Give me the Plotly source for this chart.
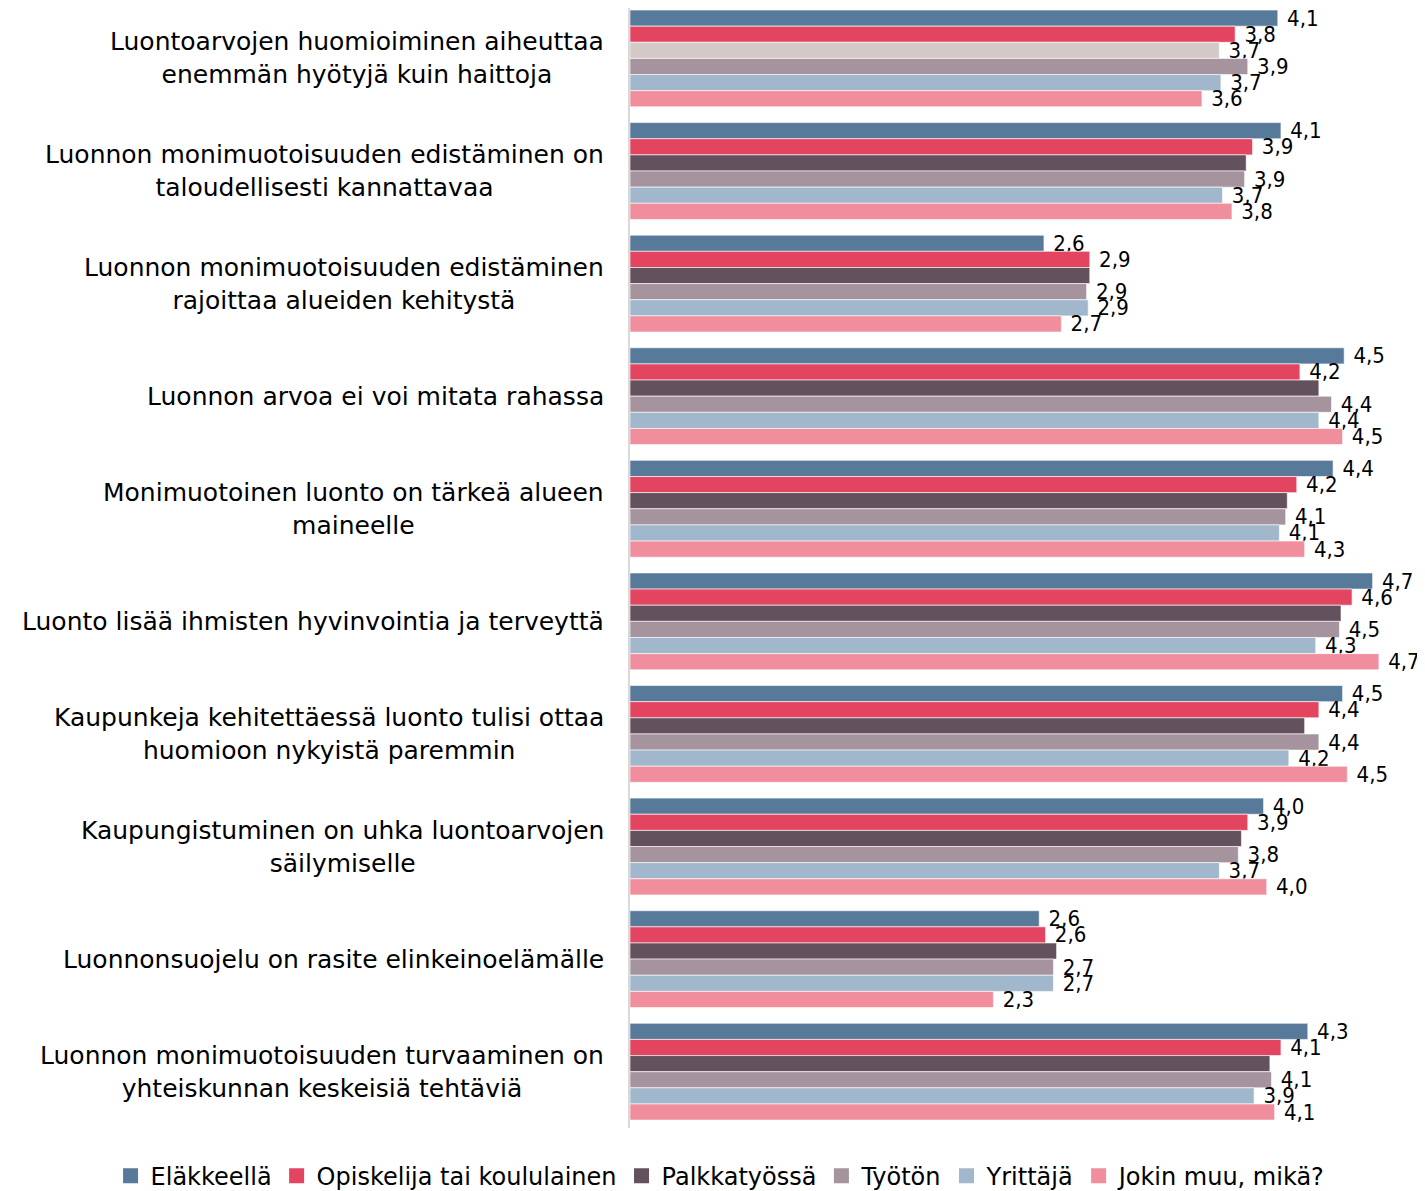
import plotly.graph_objects as go

categories = [
    "Luontoarvojen huomioiminen aiheuttaa<br>enemmän hyötyjä kuin haittoja",
    "Luonnon monimuotoisuuden edistäminen on<br>taloudellisesti kannattavaa",
    "Luonnon monimuotoisuuden edistäminen<br>rajoittaa alueiden kehitystä",
    "Luonnon arvoa ei voi mitata rahassa",
    "Monimuotoinen luonto on tärkeä alueen<br>maineelle",
    "Luonto lisää ihmisten hyvinvointia ja terveyttä",
    "Kaupunkeja kehitettäessä luonto tulisi ottaa<br>huomioon nykyistä paremmin",
    "Kaupungistuminen on uhka luontoarvojen<br>säilymiselle",
    "Luonnonsuojelu on rasite elinkeinoelämälle",
    "Luonnon monimuotoisuuden turvaaminen on<br>yhteiskunnan keskeisiä tehtäviä",
]

series_names = ["Eläkkeellä", "Opiskelija tai koululainen", "Palkkatyössä",
                "Työtön", "Yrittäjä", "Jokin muu, mikä?"]

elakkeella = [4.10, 4.12, 2.62, 4.52, 4.45, 4.70, 4.51, 4.01, 2.59, 4.29]
opiskelija = [3.83, 3.94, 2.91, 4.24, 4.22, 4.57, 4.36, 3.91, 2.63, 4.12]
palkkatyossa = [3.73, 3.90, 2.91, 4.36, 4.16, 4.50, 4.27, 3.87, 2.70, 4.05]
tyoton = [3.91, 3.89, 2.89, 4.44, 4.15, 4.49, 4.36, 3.85, 2.68, 4.06]
yrittaja = [3.74, 3.75, 2.90, 4.36, 4.11, 4.34, 4.17, 3.73, 2.68, 3.95]
jokin_muu = [3.62, 3.81, 2.73, 4.51, 4.27, 4.74, 4.54, 4.03, 2.30, 4.08]

# data labels as printed in the chart (dark bars carry no visible label)
lbl_elakkeella = ["4,1", "4,1", "2,6", "4,5", "4,4", "4,7", "4,5", "4,0", "2,6", "4,3"]
lbl_opiskelija = ["3,8", "3,9", "2,9", "4,2", "4,2", "4,6", "4,4", "3,9", "2,6", "4,1"]
lbl_palkkatyossa = ["3,7", "", "", "", "", "", "", "", "", ""]
lbl_tyoton = ["3,9", "3,9", "2,9", "4,4", "4,1", "4,5", "4,4", "3,8", "2,7", "4,1"]
lbl_yrittaja = ["3,7", "3,7", "2,9", "4,4", "4,1", "4,3", "4,2", "3,7", "2,7", "3,9"]
lbl_jokin_muu = ["3,6", "3,8", "2,7", "4,5", "4,3", "4,7", "4,5", "4,0", "2,3", "4,1"]

_COLORS = ["#577A9B", "#E3445F", "#64515E", "#A5939D", "#A1B7CB", "#F08E9E"]
_PALKKA_FIRST = "#D3CAC8"  # first group's Palkkatyössä bar is drawn light
_FONT = "DejaVu Sans, Verdana, sans-serif"
_LABEL_FONT = "Liberation Sans Narrow, DejaVu Sans Condensed, Arial Narrow, sans-serif"
# page body adds an 8px margin, so the figure itself is 8px smaller each way
_W, _H = 1417, 1183
_R = 5
_X0 = 622 / (_W - _R)  # left edge of the bar area, as a paper fraction

values = [elakkeella, opiskelija, palkkatyossa, tyoton, yrittaja, jokin_muu]
labels = [lbl_elakkeella, lbl_opiskelija, lbl_palkkatyossa, lbl_tyoton, lbl_yrittaja, lbl_jokin_muu]

fig = go.Figure()
for i, (name, vals, txt) in enumerate(zip(series_names, values, labels)):
    colors = [_COLORS[i]] * len(categories)
    if i == 2:
        colors[0] = _PALKKA_FIRST
    fig.add_bar(
        y=categories, x=vals, name=name, orientation="h",
        marker={"color": colors, "line": {"color": "rgba(255,255,255,0.6)", "width": 1}},
        text=[" " + t if t else "" for t in txt], textposition="outside",
        constraintext="none", cliponaxis=False,
        textfont={"family": _LABEL_FONT, "size": 22, "color": "#000000"},
        showlegend=False,
    )

# legend-only entries so every swatch shows the series colour
for name, color in zip(series_names, _COLORS):
    fig.add_scatter(x=[None], y=[None], mode="markers", name=name,
                    marker={"symbol": "square", "size": 15, "color": color})

for cat in categories:
    fig.add_annotation(
        x=_X0, xref="paper", xanchor="right", xshift=-24,
        y=cat, yref="y", text=cat, showarrow=False, align="center",
        font={"family": _FONT, "size": 25, "color": "#000000"},
    )

fig.update_layout(
    barmode="group", bargap=0.14, bargroupgap=0,
    width=_W, height=_H,
    paper_bgcolor="#ffffff", plot_bgcolor="#ffffff",
    margin={"l": 0, "r": _R, "t": 0, "b": 63, "autoexpand": False},
    font={"family": _FONT, "color": "#000000"},
    legend={"orientation": "h", "x": 0.505, "xanchor": "center",
            "y": -0.043, "yanchor": "middle",
            "font": {"family": _FONT, "size": 24}, "traceorder": "normal",
            "itemwidth": 30, "tracegroupgap": 0},
)
fig.update_xaxes(domain=[_X0, 1], range=[0, 5], showticklabels=False, showgrid=False,
                 zeroline=False, showline=False)
fig.update_yaxes(range=[9.50, -0.448], showticklabels=False, showgrid=False,
                 showline=True, linecolor="#D9D9D9", linewidth=2, ticks="")

fig.write_html("out.html")
